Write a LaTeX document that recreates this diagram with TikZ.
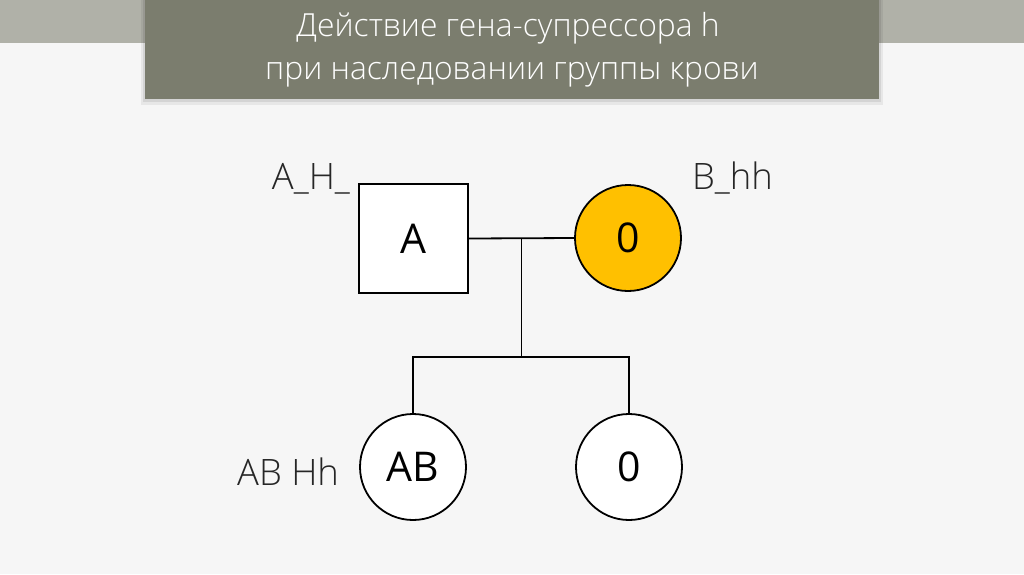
\documentclass[tikz,border=0pt]{standalone}
\usepackage{fontspec}
\setmainfont{Open Sans}
\newfontfamily\lightfont{Open Sans Light}
\usetikzlibrary{calc}
\definecolor{bandgray}{HTML}{B0B1A8}
\definecolor{titlegray}{HTML}{7B7D6E}
\definecolor{bloodyellow}{HTML}{FFC000}
\definecolor{pagebg}{HTML}{F6F6F6}
\tikzset{
  person/.style={draw, line width=0.9pt, fill=white, inner sep=0pt, font=\fontsize{20.5}{24}\selectfont},
  male/.style={person, rectangle, minimum size=54.5pt},
  female/.style={person, circle, minimum size=53pt},
  geno/.style={text=black!85, font=\lightfont\fontsize{18.2}{22}\selectfont},
  kin/.style={line width=0.9pt},
  titletext/.style={text=white, font=\lightfont\fontsize{15.9}{20}\selectfont, anchor=base}
}
\begin{document}
\begin{tikzpicture}[x=0.5pt, y=-0.5pt]
  % page and title bar
  \fill[pagebg] (0,0) rectangle (1024,574);
  \fill[bandgray] (0,0) rectangle (1024,43);
  \fill[black, opacity=0.06] (141,0) rectangle (883,105);
  \fill[black, opacity=0.08] (143,0) rectangle (881,102);
  \fill[titlegray] (145,0) rectangle (879,99);
  \node[titletext] (title1) at (508,36.5) {Действие гена-супрессора h};
  \node[titletext] (title2) at (512,79) {при наследовании группы крови};

  % parents
  \node[male] (father) at (413.5,238.5) {A};
  \node[female, fill=bloodyellow] (mother) at (628,238) {0};
  \node[geno, anchor=base east] (fathergeno) at (357,189) {A\_H\_};
  \node[geno, anchor=base west] (mothergeno) at (685,189) {B\_hh};

  % children
  \node[female] (child1) at (413,467) {AB};
  \node[female] (child2) at (629,467) {0};
  \node[geno, anchor=base east] (child1geno) at (346,485) {AB Hh};

  % lines
  \coordinate (mid) at ($(father.east)!0.5!(mother.west)$);
  \coordinate (sib) at (mid |- 0,357);
  \draw[kin] (father.east) -- (mother.west);
  \draw[kin] (mid) -- (sib);
  \draw[kin] (child1.north) |- (sib) -| (child2.north);
\end{tikzpicture}
\end{document}
